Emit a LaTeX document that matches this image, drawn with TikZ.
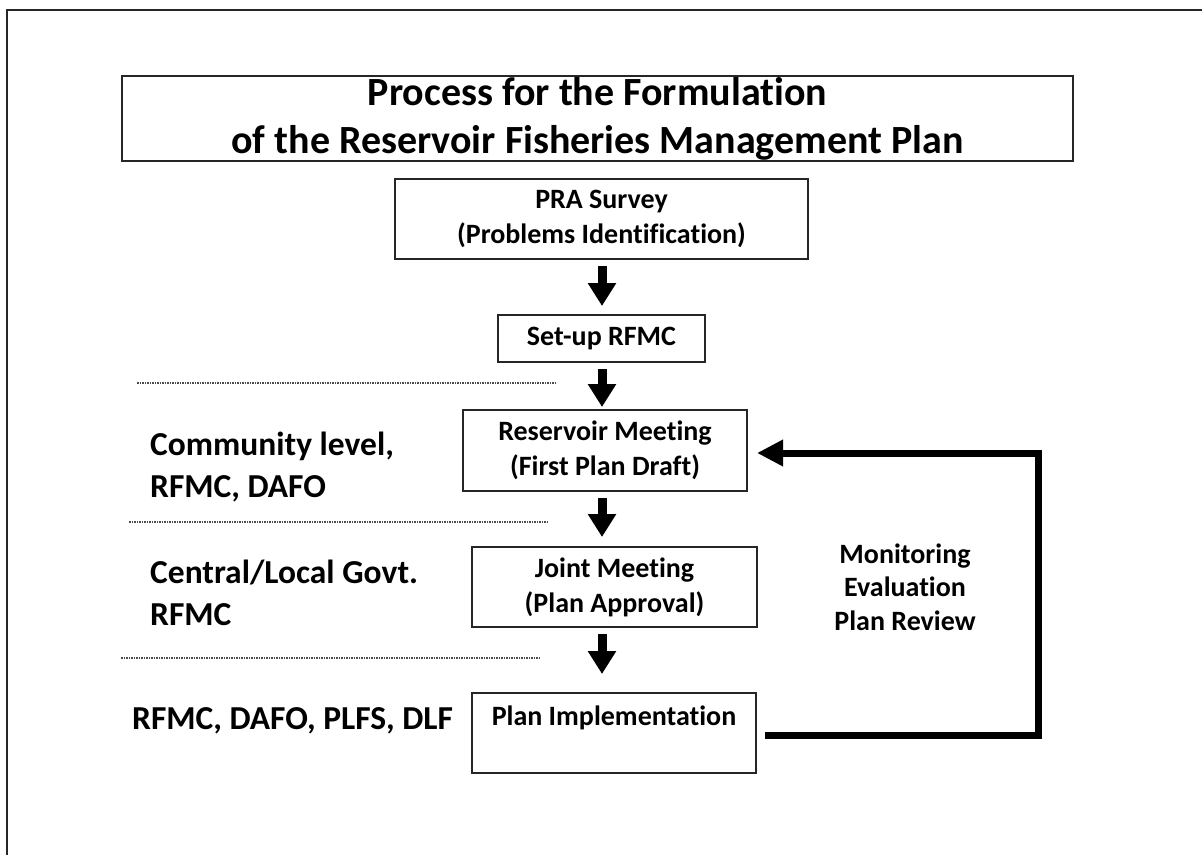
\documentclass[tikz,border=0pt]{standalone}
\usepackage{fontspec}
\setmainfont{Carlito}[Ligatures=NoCommon]
\usetikzlibrary{arrows.meta}
\definecolor{ink}{gray}{0.15}
\begin{document}
\begin{tikzpicture}[x=1pt,y=-1pt,
  frame/.style={draw=ink, line width=2pt},
  box/.style={draw=ink, line width=2pt, inner sep=0pt, align=center,
    font=\bfseries\fontsize{28}{35}\selectfont},
  titletext/.style={inner sep=0pt, align=center, font=\bfseries\fontsize{40}{48}\selectfont},
  sidelabel/.style={inner sep=0pt, align=left, font=\bfseries\fontsize{33.5}{42}\selectfont},
  looplabel/.style={inner sep=0pt, align=center, font=\bfseries\fontsize{28}{33.5}\selectfont},
  flowarrow/.style={draw=black, line width=9pt, -{Triangle[width=27pt,length=23pt]}, shorten <=6pt},
  feedback/.style={draw=black, line width=7pt, line join=miter, -{Triangle[width=25pt,length=26pt]}},
  separator/.style={draw=black!70, line width=2pt, dash pattern=on 1.5pt off 1pt}
]
\useasboundingbox (0,0) rectangle (1202,855);

% page rules along the top and left
\draw[frame] (7,855) -- (7,10) -- (1202,10);

% heading (base anchor = baseline of the last line)
\node[frame, inner sep=0pt, minimum width=951pt, minimum height=85pt] (titlebox) at (597.5,118.5) {};
\node[titletext, anchor=base] (title) at (597.5,153) {Process for the Formulation\\of the Reservoir Fisheries Management Plan};

% process steps
\node[box, minimum width=413pt, minimum height=80pt] (pra) at (601.5,219) {PRA Survey\\(Problems Identification)};
\node[box, minimum width=207pt, minimum height=47pt] (setup) at (601.5,338.5) {Set-up RFMC};
\node[box, minimum width=284pt, minimum height=81pt] (meeting) at (605,450.5) {Reservoir Meeting\\(First Plan Draft)};
\node[box, minimum width=285pt, minimum height=80pt] (joint) at (614.5,587) {Joint Meeting\\(Plan Approval)};
\node[box, minimum width=284pt, minimum height=80pt, text height=20pt, text depth=36pt] (impl) at (614,733) {Plan Implementation};

% downward flow along one vertical axis
\coordinate (spine) at (602,0);
\draw[flowarrow, shorten >=8pt] (pra.south -| spine) -- (setup.north -| spine);
\draw[flowarrow, shorten >=2pt] (setup.south -| spine) -- (meeting.north -| spine);
\draw[flowarrow, shorten >=9pt] (meeting.south -| spine) -- (joint.north -| spine);
\draw[flowarrow, shorten >=18pt] (joint.south -| spine) -- (impl.north -| spine);

% feedback loop
\coordinate (loop) at (1038,0);
\draw[feedback] ([xshift=8pt,yshift=-2pt]impl.east) -- ([yshift=-2pt]impl.east -| loop)
  -- ([yshift=-2.5pt]meeting.east -| loop) -- ([xshift=9pt,yshift=-2.5pt]meeting.east);
\node[looplabel, anchor=base] (review) at (905,630) {Monitoring\\Evaluation\\Plan Review};

% level separators
\draw[separator] (137,383) -- (557,383);
\draw[separator] (129,522) -- (548,522);
\draw[separator] (121,658) -- (540,658);

% responsible parties per level (base anchor = baseline of the last line)
\node[sidelabel, anchor=base west] (community) at (150,497) {Community level,\\RFMC, DAFO};
\node[sidelabel, anchor=base west] (govt) at (150,625) {Central/Local Govt.\\RFMC};
\node[sidelabel, anchor=base west] (agencies) at (132,729) {RFMC, DAFO, PLFS, DLF};
\end{tikzpicture}
\end{document}
